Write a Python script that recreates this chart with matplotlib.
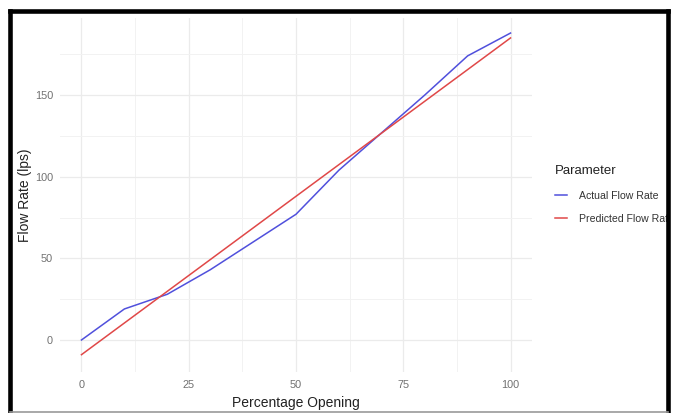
import numpy as np
import matplotlib
matplotlib.use('Agg')
import matplotlib.pyplot as plt
from matplotlib.patches import Rectangle
from matplotlib.lines import Line2D

# data
opening = [0, 10, 20, 30, 40, 50, 60, 70, 80, 90, 100]
actual = [0, 19, 28, 43, 60, 77, 104, 127, 150, 174, 188]
predicted = [-9, 10.4, 29.8, 49.2, 68.6, 88, 107.4, 126.8, 146.2, 165.6, 185]

xticks = [0, 25, 50, 75, 100]
yticks = [0, 50, 100, 150]

W, H = 675, 413
plt.rcParams['font.family'] = ['Liberation Sans', 'DejaVu Sans']

fig = plt.figure(figsize=(W/100, H/100), dpi=100)
fig.patch.set_facecolor('white')
ax = fig.add_axes([60/W, 1-372/H, (532-60)/W, (372-18)/H])

ax.plot(opening, actual, color='#5050dc', lw=1.1, label='Actual Flow Rate')
ax.plot(opening, predicted, color='#e04848', lw=1.1, label='Predicted Flow Rate')

ax.set_xlim(-5, 105)
ax.set_ylim(-19.6, 197.2)
ax.set_xticks(xticks)
ax.set_yticks(yticks)
ax.set_xticks([12.5, 37.5, 62.5, 87.5], minor=True)
ax.set_yticks([25, 75, 125, 175], minor=True)
ax.grid(which='major', color='#ebebeb', lw=0.9)
ax.grid(which='minor', color='#f2f2f2', lw=0.7)
ax.set_axisbelow(True)
for s in ax.spines.values():
    s.set_visible(False)
ax.tick_params(which='both', length=0, labelsize=7.8, labelcolor='#707070')
ax.tick_params(axis='x', pad=6)
ax.tick_params(axis='y', pad=5)

ax.set_xlabel('Percentage Opening', fontsize=10, color='#222222')
ax.set_ylabel('Flow Rate (lps)', fontsize=10, color='#222222')
ax.xaxis.set_label_coords(0.5, (372-403)/354, transform=ax.transAxes)
ax.yaxis.set_label_coords((25-60)/472, 0.5, transform=ax.transAxes)
ax.xaxis.label.set_va('center')
ax.yaxis.label.set_va('center')

leg = ax.legend(loc='upper left', bbox_to_anchor=(545/W, 1-156/H),
                bbox_transform=fig.transFigure, frameon=False,
                title='Parameter', title_fontsize=9.5, fontsize=7.6,
                handlelength=1.2, handletextpad=1.1, labelspacing=1.25,
                alignment='left')
leg.get_title().set_color('#222222')
for t in leg.get_texts():
    t.set_color('#333333')

# black frame round the screenshot
def px(x, y):
    return x/W, 1-y/H

fig.add_artist(Rectangle(px(670, H), 5/W, 1, transform=fig.transFigure,
                         color='white', zorder=20))
fig.add_artist(Rectangle(px(0, 8), 1, 8/H, transform=fig.transFigure,
                         color='white', zorder=20))
for (x0, y0), (x1, y1) in [((10, 10.5), (668, 10.5)), ((10, 10.5), (10, H)),
                           ((668, 10.5), (668, H))]:
    a, b = px(x0, y0)
    c, d = px(x1, y1)
    fig.add_artist(Line2D([a, c], [b, d], transform=fig.transFigure,
                          color='black', lw=3.3, zorder=21))
a, b = px(10, 412)
c, d = px(668, 412)
fig.add_artist(Line2D([a, c], [b, d], transform=fig.transFigure,
                      color='#9a9a9a', lw=1.2, zorder=21))

fig.savefig('out.png', dpi=100)
